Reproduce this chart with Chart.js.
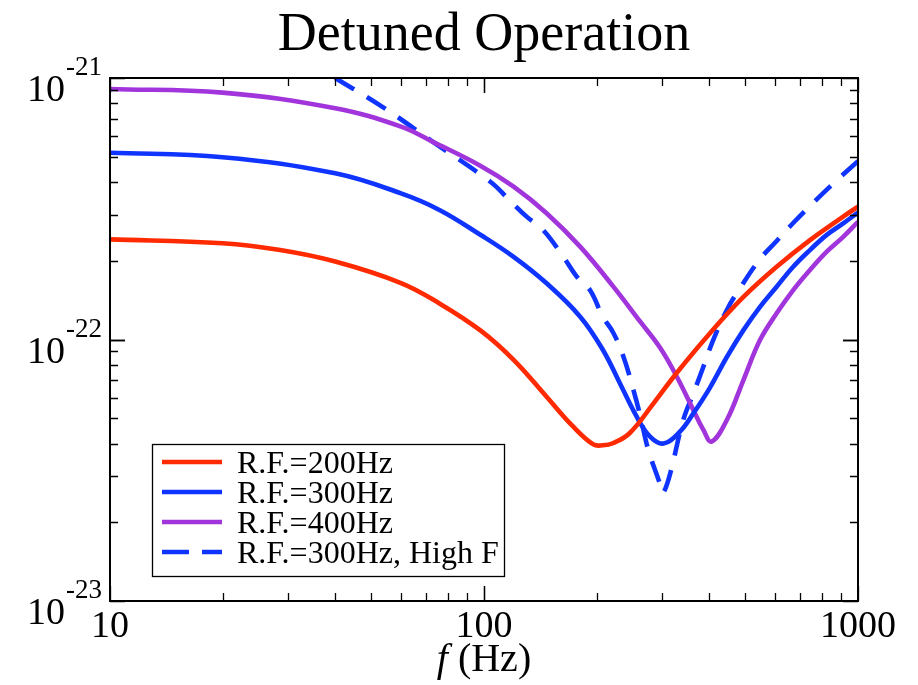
<!DOCTYPE html>
<html>
<head>
<meta charset="utf-8">
<title>Detuned Operation</title>
<script src="https://cdn.jsdelivr.net/npm/chart.js@4.4.1/dist/chart.umd.min.js"></script>
<style>
  html, body { margin: 0; padding: 0; background: #ffffff; }
  #wrap { width: 918px; height: 685px; position: relative; }
</style>
</head>
<body>
<div id="wrap"><canvas id="noise-chart"></canvas></div>
<script>
// values (strain noise, 1/sqrt(Hz))
const freq200 = [10, 20, 28.5, 40, 60, 76, 98, 120, 147, 173, 196, 208, 221, 245, 284, 327, 402, 494, 606, 744, 913, 1000];
const noise200 = [2.415e-22, 2.333e-22, 2.198e-22, 1.986e-22, 1.644e-22, 1.374e-22, 1.081e-22, 8.36e-23, 6.04e-23, 4.65e-23,
  3.97e-23, 3.94e-23, 4.01e-23, 4.38e-23, 5.70e-23, 7.43e-23, 1.057e-22, 1.454e-22, 1.897e-22, 2.399e-22, 2.951e-22, 3.221e-22];

const freq300 = [10, 20, 40, 60, 76, 98, 120, 147, 181, 208, 231, 256, 278, 302, 334, 363, 402, 446, 494, 547, 606, 671, 744, 825, 913, 1000];
const noise300 = [5.18e-22, 4.98e-22, 4.32e-22, 3.62e-22, 3.13e-22, 2.51e-22, 2.07e-22, 1.64e-22, 1.22e-22, 9.12e-23, 6.79e-23,
  5.07e-23, 4.25e-23, 4.00e-23, 4.44e-23, 5.22e-23, 6.55e-23, 8.57e-23, 1.086e-22, 1.334e-22, 1.592e-22, 1.897e-22, 2.198e-22,
  2.512e-22, 2.78e-22, 3.06e-22];

const freq400 = [10, 20, 40, 60, 73, 98, 120, 147, 181, 222, 262, 296, 327, 363, 386, 406, 446, 494, 547, 606, 671, 744, 825, 913, 1000];
const noise400 = [9.08e-22, 8.79e-22, 7.66e-22, 6.52e-22, 5.70e-22, 4.61e-22, 3.84e-22, 3.04e-22, 2.26e-22, 1.59e-22, 1.167e-22,
  9.28e-23, 7.25e-23, 5.37e-23, 4.51e-23, 4.07e-23, 4.92e-23, 7.0e-23, 9.95e-23, 1.259e-22, 1.545e-22, 1.845e-22, 2.168e-22,
  2.47e-22, 2.82e-22];

const freqHighF = [40, 53.5, 73, 104, 117, 130, 144, 163, 177, 192, 208, 222, 236, 251, 262, 275, 295, 300, 313, 341, 363, 386,
  410, 446, 484, 547, 606, 671, 744, 859, 1000];
const noiseHighF = [1.0e-21, 7.76e-22, 5.70e-22, 4.01e-22, 3.41e-22, 2.95e-22, 2.62e-22, 2.07e-22, 1.74e-22, 1.545e-22, 1.22e-22,
  1.057e-22, 8.59e-23, 6.41e-23, 5.07e-23, 3.78e-23, 2.82e-23, 2.58e-23, 2.99e-23, 4.92e-23, 6.22e-23, 7.87e-23, 9.95e-23,
  1.297e-22, 1.574e-22, 2.03e-22, 2.38e-22, 2.79e-22, 3.24e-22, 3.95e-22, 4.81e-22];

const seriesLabels = ["R.F.=200Hz", "R.F.=300Hz", "R.F.=400Hz", "R.F.=300Hz, High F"];
const xTickLabels = ["10", "100", "1000"];
const yTickExponents = ["-21", "-22", "-23"];

const SERIF = '"Liberation Serif", "Times New Roman", serif';

function toPoints(xs, ys) {
  return xs.map((x, i) => ({ x: x, y: ys[i] }));
}

// frame, inward ticks, labels, title and legend, xmgrace style
const framePlugin = {
  id: "frame",
  afterDraw(chart) {
    const ctx = chart.ctx;
    const area = chart.chartArea;
    const xs = chart.scales.x;
    const ys = chart.scales.y;
    ctx.save();

    // frame
    ctx.strokeStyle = "#000";
    ctx.lineWidth = 2;
    ctx.strokeRect(area.left, area.top, area.right - area.left, area.bottom - area.top);

    // x ticks (bottom + top)
    ctx.lineWidth = 1.3;
    for (let d = 10; d < 1000; d *= 10) {
      for (let m = 1; m <= 10; m++) {
        const px = Math.round(xs.getPixelForValue(d * m)) + 0.5;
        const len = (m === 1 || m === 10) ? 15 : 8;
        ctx.beginPath();
        ctx.moveTo(px, area.bottom);
        ctx.lineTo(px, area.bottom - len);
        ctx.moveTo(px, area.top);
        ctx.lineTo(px, area.top + len);
        ctx.stroke();
      }
    }
    // y ticks (left + right)
    for (let d = 1e-23; d < 0.9e-21; d *= 10) {
      for (let m = 1; m <= 10; m++) {
        const py = Math.round(ys.getPixelForValue(d * m)) + 0.5;
        const len = (m === 1 || m === 10) ? 15 : 8;
        ctx.beginPath();
        ctx.moveTo(area.left, py);
        ctx.lineTo(area.left + len, py);
        ctx.moveTo(area.right, py);
        ctx.lineTo(area.right - len, py);
        ctx.stroke();
      }
    }

    ctx.fillStyle = "#000";
    ctx.textBaseline = "alphabetic";

    // x tick labels
    ctx.font = "38px " + SERIF;
    ctx.textAlign = "center";
    xTickLabels.forEach((lab) => {
      ctx.fillText(lab, xs.getPixelForValue(Number(lab)), area.bottom + 36);
    });

    // y tick labels: 10 with superscript exponent
    yTickExponents.forEach((ex) => {
      const py = ys.getPixelForValue(Math.pow(10, Number(ex)));
      ctx.font = "27px " + SERIF;
      ctx.textAlign = "right";
      const right = area.left - 8;
      ctx.fillText(ex, right, py - 3);
      const w = ctx.measureText(ex).width;
      ctx.font = "38px " + SERIF;
      ctx.fillText("10", right - w - 1, py + 23);
    });

    // axis title: italic f + (Hz)
    const cx = (area.left + area.right) / 2;
    ctx.textAlign = "left";
    ctx.font = "italic 40px " + SERIF;
    const fW = ctx.measureText("f").width;
    ctx.font = "40px " + SERIF;
    const restW = ctx.measureText(" (Hz)").width;
    const startX = cx - (fW + restW) / 2;
    ctx.font = "italic 40px " + SERIF;
    ctx.fillText("f", startX, area.bottom + 70);
    ctx.font = "40px " + SERIF;
    ctx.fillText(" (Hz)", startX + fW, area.bottom + 70);

    // title
    ctx.textAlign = "center";
    ctx.font = "54px " + SERIF;
    ctx.fillText("Detuned Operation", cx, 50);

    // legend box
    const lx = 152, ly = 444, lw = 352, lh = 132;
    ctx.fillStyle = "#fff";
    ctx.fillRect(lx, ly, lw, lh);
    ctx.strokeStyle = "#000";
    ctx.lineWidth = 1.3;
    ctx.strokeRect(lx + 0.5, ly + 0.5, lw, lh);
    chart.data.datasets.forEach((ds, i) => {
      const rowY = 462 + i * 30;
      ctx.strokeStyle = ds.borderColor;
      ctx.lineWidth = ds.borderWidth;
      ctx.setLineDash(ds.borderDash ? [27, 13] : []);
      ctx.beginPath();
      ctx.moveTo(162, rowY);
      ctx.lineTo(222, rowY);
      ctx.stroke();
      ctx.setLineDash([]);
      ctx.fillStyle = "#000";
      ctx.textAlign = "left";
      ctx.font = "32px " + SERIF;
      ctx.fillText(ds.label, 237, rowY + 11);
    });

    ctx.restore();
  },
};

function initializeNoiseChart() {
  const ctx = document.getElementById("noise-chart");

  const lineStyle = {
    borderWidth: 4.6,
    pointRadius: 0,
    fill: false,
    tension: 0.4,
    clip: 0,
  };

  new Chart(ctx, {
    type: "line",
    data: {
      datasets: [
        { ...lineStyle, label: seriesLabels[0], data: toPoints(freq200, noise200), borderColor: "#ff2a00" },
        { ...lineStyle, label: seriesLabels[1], data: toPoints(freq300, noise300), borderColor: "#1034ff" },
        { ...lineStyle, label: seriesLabels[2], data: toPoints(freq400, noise400), borderColor: "#a234dc" },
        { ...lineStyle, label: seriesLabels[3], data: toPoints(freqHighF, noiseHighF), borderColor: "#1034ff", borderDash: [22, 15] },
      ],
    },
    options: {
      responsive: true,
      maintainAspectRatio: false,
      animation: false,
      layout: { padding: { left: 110, right: 60, top: 78, bottom: 84 } },
      plugins: {
        legend: { display: false },
        title: { display: false },
        tooltip: { enabled: false },
      },
      scales: {
        x: { type: "logarithmic", min: 10, max: 1000, display: false },
        y: { type: "logarithmic", min: 1e-23, max: 1e-21, display: false },
      },
    },
    plugins: [framePlugin],
  });
}

window.addEventListener("load", initializeNoiseChart);
</script>
</body>
</html>
